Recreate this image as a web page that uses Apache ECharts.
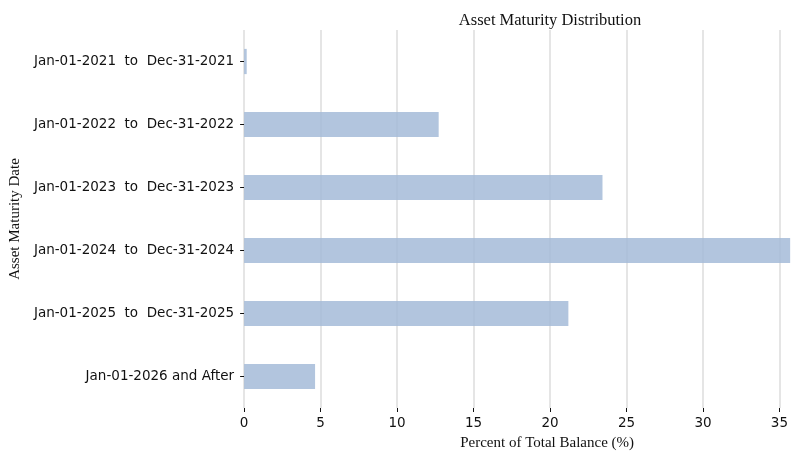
<!DOCTYPE html>
<html><head><meta charset="utf-8">
<script src="https://cdn.jsdelivr.net/npm/echarts@6/dist/echarts.min.js"></script>
<style>html,body{margin:0;padding:0;background:#fff;overflow:hidden}#c{width:791px;height:456px}</style>
</head><body><div id="c"></div>
<script>
const categories = [
  'Jan-01-2021  to  Dec-31-2021',
  'Jan-01-2022  to  Dec-31-2022',
  'Jan-01-2023  to  Dec-31-2023',
  'Jan-01-2024  to  Dec-31-2024',
  'Jan-01-2025  to  Dec-31-2025',
  'Jan-01-2026 and After'
];
const percentValues = [0.17, 12.72, 23.43, 35.7, 21.2, 4.64];
const xTicks = [0, 5, 10, 15, 20, 25, 30, 35];

const chart = echarts.init(document.getElementById('c'));
chart.setOption({
  animation: false,
  title: {
    text: 'Asset Maturity Distribution',
    left: 545, top: 7, textAlign: 'center',
    textStyle: {fontFamily: 'Liberation Serif', fontSize: 16.5, fontWeight: 'normal', color: '#111'}
  },
  grid: {left: 242, right: 0, top: 30, bottom: 44, containLabel: false},
  xAxis: {
    type: 'value', min: 0, max: 35.7,
    name: 'Percent of Total Balance (%)', nameLocation: 'middle', nameGap: 28,
    nameTextStyle: {fontFamily: 'Liberation Serif', fontSize: 15, color: '#111', padding: [0, 0, 0, 60]},
    axisLine: {show: false},
    axisTick: {show: true, length: 4, customValues: xTicks, lineStyle: {color: '#111'}},
    axisLabel: {fontFamily: 'DejaVu Sans', fontSize: 13.5, color: '#111', margin: 8, customValues: xTicks},
    splitLine: {show: true, lineStyle: {color: '#dcdcdc', width: 1.5}}
  },
  yAxis: {
    type: 'category', data: categories, inverse: true,
    name: 'Asset Maturity Date', nameLocation: 'middle', nameGap: 219, nameRotate: 90,
    nameTextStyle: {fontFamily: 'Liberation Serif', fontSize: 15, color: '#111'},
    axisLine: {show: false},
    axisTick: {show: true, alignWithLabel: true, length: 4, lineStyle: {color: '#111'}},
    axisLabel: {fontFamily: 'DejaVu Sans', fontSize: 13.5, color: '#111', margin: 10},
    splitLine: {show: false}
  },
  series: [{
    type: 'bar', data: percentValues, barWidth: '40%',
    itemStyle: {color: '#a5bbd8', opacity: 0.85}
  }]
});
</script></body></html>
